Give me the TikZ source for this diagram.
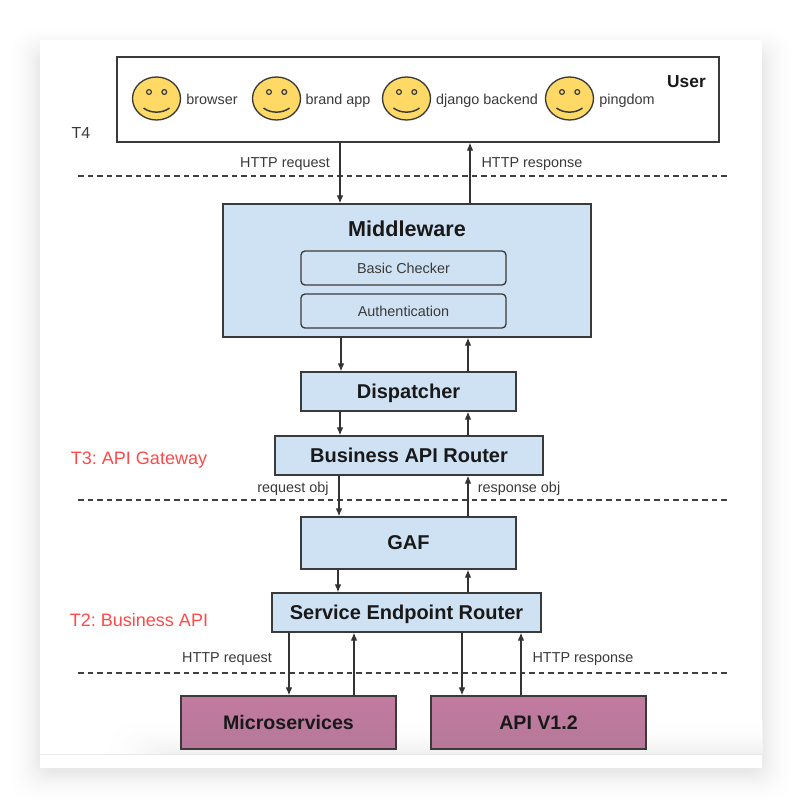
\documentclass[tikz,border=0pt]{standalone}
\usepackage{fontspec}
\setmainfont{Liberation Sans}
\frenchspacing
\usetikzlibrary{arrows.meta,calc}
\definecolor{boxblue}{HTML}{CFE2F3}
\definecolor{purpletop}{HTML}{C27BA0}
\definecolor{purplebottom}{HTML}{B67899}
\definecolor{smileyellow}{HTML}{FFD966}
\definecolor{linedark}{HTML}{3A3A3A}
\definecolor{labelred}{HTML}{FF4A4A}
\def\u{0.75pt}
\newcommand{\fs}[1]{\fontsize{#1}{#1}\selectfont}
\tikzset{
  x=0.75pt,y=-0.75pt,
  boxbase/.style={draw=linedark,line width=1pt,inner sep=0pt,align=center},
  bluebox/.style={boxbase,fill=boxblue,font=\fs{15}\bfseries,text=black!90,text height=11pt,text depth=1pt},
  purplebox/.style={boxbase,top color=purpletop,bottom color=purplebottom,font=\fs{14.7}\bfseries,text=black!90,text height=11pt,text depth=1pt},
  innerbox/.style={boxbase,fill=boxblue,rounded corners=3pt,font=\fs{10.8},text=linedark,text height=9pt,text depth=1pt},
  userbox/.style={boxbase,fill=white},
  small/.style={inner sep=0pt,font=\fs{10.8},text=linedark,text height=9pt,text depth=1pt},
  tier/.style={inner sep=0pt,font=\fs{13.5},text=labelred,text height=10pt,text depth=1pt},
  arr/.style={draw=black!80,line width=0.9pt,-{Latex[length=6pt,width=5pt]}},
  sep/.style={draw=black!75,line width=0.8pt,dash pattern=on 4.2pt off 3pt},
}
\begin{document}
\begin{tikzpicture}
\useasboundingbox (0,0) rectangle (802,808);
\fill[white] (0,0) rectangle (802,808);
% card shadow: graded greys, outermost first
\foreach \d in {40,38,...,0}{
  \pgfmathsetmacro{\p}{9*(1-\d/40)*(1-\d/40)}
  \fill[black!\p,rounded corners=14pt] (40-\d*0.8,50-\d*0.6) rectangle (762+\d*0.8,772+\d*0.8);
}
\fill[white] (40,40) rectangle (762,768);
% inner shadow above the faint line
\begin{scope}
\clip (40,40) rectangle (762,754);
\foreach \d in {40,38,...,0}{
  \pgfmathsetmacro{\p}{8*(1-\d/40)*(1-\d/40)}
  \fill[black!\p,rounded corners=16pt] (165-\d*1.6,758-\d) rectangle (830,830);
}
\end{scope}
\draw[black!9,line width=0.6pt] (40,754) -- (762,754);

% separators
\coordinate (sL1) at (78,176); \coordinate (sR1) at (727,176);
\coordinate (sL2) at (78,500); \coordinate (sR2) at (727,500);
\coordinate (sL3) at (78,673); \coordinate (sR3) at (727,673);
\draw[sep] (sL1) -- (sR1);
\draw[sep] (sL2) -- (sR2);
\draw[sep] (sL3) -- (sR3);

% boxes
\node[userbox,minimum width=602*\u,minimum height=85*\u] (user) at (418,99.5) {};
\node[inner sep=0pt,font=\fs{13}\bfseries,text=black!90,text height=9.5pt,text depth=1pt] (userlabel) at (686.5,81.5) {User};
\node[bluebox,minimum width=368*\u,minimum height=133*\u] (mw) at (407,270.5) {};
\node[inner sep=0pt,font=\fs{16.2}\bfseries,text=black!90,text height=12pt,text depth=1pt] (mwlabel) at (407,229) {Middleware};
\node[innerbox,minimum width=205*\u,minimum height=34*\u] (basic) at (403.5,268) {Basic Checker};
\node[innerbox,minimum width=205*\u,minimum height=34*\u] (auth) at (403.5,311) {Authentication};
\node[bluebox,minimum width=215*\u,minimum height=39*\u] (disp) at (408.5,391.5) {Dispatcher};
\node[bluebox,minimum width=268*\u,minimum height=39*\u] (bar) at (409,455.5) {Business API Router};
\node[bluebox,minimum width=215*\u,minimum height=52*\u] (gaf) at (408.5,543) {GAF};
\node[bluebox,minimum width=269*\u,minimum height=39*\u] (ser) at (406.5,612.5) {Service Endpoint Router};
\node[purplebox,minimum width=215*\u,minimum height=53*\u] (micro) at (288.5,722.5) {Microservices};
\node[purplebox,minimum width=215*\u,minimum height=53*\u] (api) at (538.5,722.5) {API V1.2};

% smileys
\foreach \cx in {156.5,276.5,406.5,569.5}{
  \begin{scope}[shift={(\cx,98.5)}]
    \fill[smileyellow,draw=linedark,line width=1pt] (0,0) ellipse [x radius=24,y radius=21.5];
    \draw[linedark,line width=0.9pt] (-7.5,-6.5) circle [radius=2.4];
    \draw[linedark,line width=0.9pt] (7.8,-6.5) circle [radius=2.4];
    \draw[linedark,line width=1.1pt] (-13,9.5) .. controls (-6,15) and (6,15) .. (13,9.5);
  \end{scope}
}
\node[small] (l1) at (212,99) {browser};
\node[small] (l2) at (338,99) {brand app};
\node[small] (l3) at (487,99) {django backend};
\node[small] (l4) at (627,99) {pingdom};

% connector columns
\foreach \n/\xx in {c340/340,c470/470,c341/341,c468/468,c339/339,c338/338,c289/289,c354/354,c462/462,c521/521}{
  \coordinate (\n) at (\xx,0);
}
\draw[arr] (user.south -| c340) -- (mw.north -| c340);
\draw[arr] (mw.north -| c470) -- (user.south -| c470);
\draw[arr] (mw.south -| c341) -- (disp.north -| c341);
\draw[arr] (disp.north -| c468) -- (mw.south -| c468);
\draw[arr] (disp.south -| c340) -- (bar.north -| c340);
\draw[arr] (bar.north -| c468) -- (disp.south -| c468);
\draw[arr] (bar.south -| c339) -- (gaf.north -| c339);
\draw[arr] (gaf.north -| c468) -- (bar.south -| c468);
\draw[arr] (gaf.south -| c338) -- (ser.north -| c338);
\draw[arr] (ser.north -| c468) -- (gaf.south -| c468);
\draw[arr] (ser.south -| c289) -- (micro.north -| c289);
\draw[arr] (micro.north -| c354) -- (ser.south -| c354);
\draw[arr] (ser.south -| c462) -- (api.north -| c462);
\draw[arr] (api.north -| c521) -- (ser.south -| c521);

% labels
\node[small] (h1) at (285,162) {HTTP request};
\node[small] (h2) at (532,162) {HTTP response};
\node[small] (r1) at (293,487) {request obj};
\node[small] (r2) at (519,487) {response obj};
\node[small] (h3) at (227,657) {HTTP request};
\node[small] (h4) at (583,657) {HTTP response};
\node[inner sep=0pt,font=\fs{12},text=linedark,text height=8.5pt,text depth=1pt] (t4) at (81,133) {T4};
\node[tier] (t3) at (139,458) {T3: API Gateway};
\node[tier] (t2) at (139,620) {T2: Business API};
\end{tikzpicture}
\end{document}
